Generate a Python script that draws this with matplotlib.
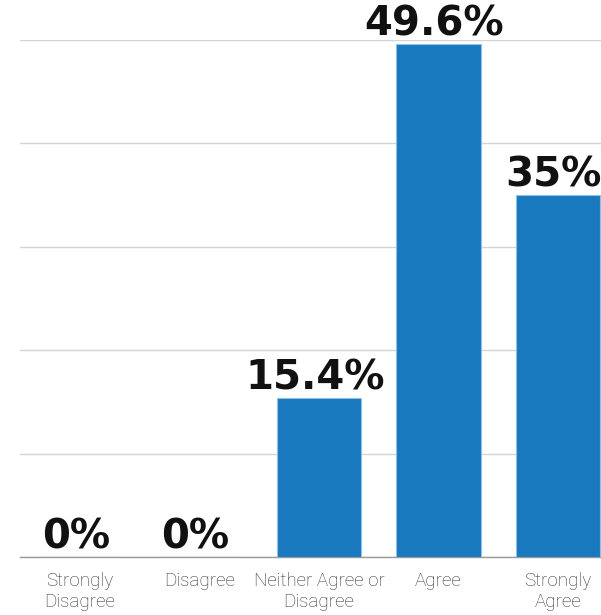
import matplotlib
matplotlib.use("Agg")
import matplotlib.pyplot as plt

categories = ["Strongly\nDisagree", "Disagree", "Neither Agree or\nDisagree", "Agree", "Strongly\nAgree"]
values = [0, 0, 15.4, 49.6, 35]
value_labels = ["0%", "0%", "15.4%", "49.6%", "35%"]
yticks = [0, 10, 20, 30, 40, 50]

W, H = 601, 615
fig = plt.figure(figsize=(W / 100, H / 100), dpi=100)
left = 20.25 / W
width = 597.5 / W
bottom = (H - 557) / H
height = (557 - 40) / H
ax = fig.add_axes([left, bottom, width, height])

x = list(range(len(categories)))
ax.bar(x, values, width=0.71, color="#1979BF", edgecolor="#8fc0e6", linewidth=0.8, zorder=3)
ax.set_xlim(-0.5, len(categories) - 0.5)
ax.set_ylim(0, 50)
ax.set_yticks(yticks)
ax.yaxis.grid(True, color="#d4d4d4", linewidth=1.0, zorder=0)
ax.tick_params(axis="y", left=False, labelleft=False)
ax.tick_params(axis="x", bottom=False, pad=7)
ax.set_xticks(x)
ax.set_xticklabels(categories, fontfamily="Roboto", fontweight="light", fontsize=13.5,
                   color="#333333", linespacing=1.25)
for s in ["top", "right", "left"]:
    ax.spines[s].set_visible(False)
ax.spines["bottom"].set_color("#999999")
ax.spines["bottom"].set_linewidth(1.0)

for xi, v, lab in zip(x, values, value_labels):
    ax.annotate(lab, (xi, v), xytext=(-3, 6), textcoords="offset points",
                ha="center", va="baseline", fontfamily="DejaVu Sans", fontweight="bold",
                fontsize=29, color="#111111", clip_on=False, zorder=4)

fig.savefig("out.png", dpi=100)
